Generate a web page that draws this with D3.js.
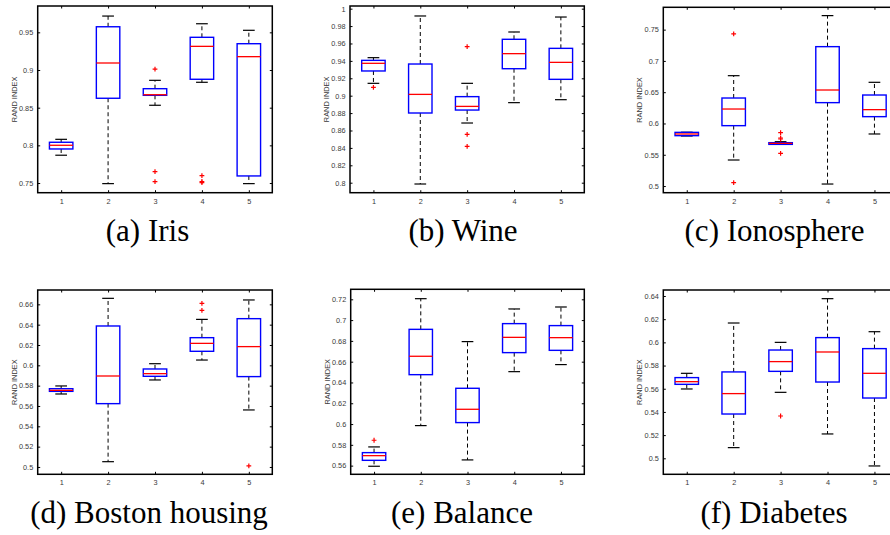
<!DOCTYPE html>
<html><head><meta charset="utf-8">
<script src="https://cdn.jsdelivr.net/npm/d3@7"></script>
<style>body{margin:0;background:#fff}svg{display:block}</style>
</head><body>
<svg id="chart" width="890" height="535"></svg>
<script>
// ---- data ----
const methods = ["1", "2", "3", "4", "5"];
const captions = ["(a) Iris", "(b) Wine", "(c) Ionosphere", "(d) Boston housing", "(e) Balance", "(f) Diabetes"];
const yLabel = "RAND INDEX";

// each row: [lower whisker, q1, median, q3, upper whisker]
const irisStats = [[0.7869, 0.7952, 0.8001, 0.8041, 0.8080], [0.7492, 0.8625, 0.9093, 0.9574, 0.9716], [0.8532, 0.8664, 0.8672, 0.8752, 0.8863], [0.8837, 0.8877, 0.9314, 0.9434, 0.9614], [0.7492, 0.7594, 0.9177, 0.9349, 0.9527]];
const irisOutliers = [[], [], [0.9013, 0.7651, 0.7519], [0.7598, 0.7520, 0.7505], []];

const wineStats = [[0.9142, 0.9284, 0.9372, 0.9406, 0.9437], [0.7985, 0.8801, 0.9015, 0.9364, 0.9916], [0.8686, 0.8835, 0.8877, 0.8989, 0.9142], [0.8920, 0.9310, 0.9483, 0.9648, 0.9732], [0.8954, 0.9188, 0.9383, 0.9544, 0.9904]];
const wineOutliers = [[0.9096], [], [0.9563, 0.8556, 0.8418], [], []];

const ionoStats = [[0.5800, 0.5805, 0.5832, 0.5858, 0.5860], [0.5416, 0.5965, 0.6231, 0.6407, 0.6764], [0.5666, 0.5666, 0.5682, 0.5693, 0.5709], [0.5032, 0.6333, 0.6535, 0.7228, 0.7724], [0.5832, 0.6109, 0.6221, 0.6455, 0.6658]];
const ionoOutliers = [[], [0.7431, 0.5053], [0.5853, 0.5768, 0.5752, 0.5522], [], []];

const bostonStats = [[0.5718, 0.5744, 0.5754, 0.5770, 0.5797], [0.5052, 0.5623, 0.5895, 0.6387, 0.6659], [0.5856, 0.5892, 0.5918, 0.5964, 0.6016], [0.6052, 0.6138, 0.6216, 0.6272, 0.6452], [0.5561, 0.5889, 0.6184, 0.6459, 0.6643]];
const bostonOutliers = [[], [], [], [0.6610, 0.6541], [0.5010]];

const balanceStats = [[0.5594, 0.5651, 0.5696, 0.5725, 0.5780], [0.5985, 0.6475, 0.6652, 0.6911, 0.7206], [0.5655, 0.6014, 0.6142, 0.6344, 0.6793], [0.6504, 0.6687, 0.6834, 0.6966, 0.7107], [0.6572, 0.6709, 0.6831, 0.6947, 0.7126]];
const balanceOutliers = [[0.5844], [], [], [], []];

const diabetesStats = [[0.5598, 0.5638, 0.5661, 0.5696, 0.5733], [0.5092, 0.5382, 0.5558, 0.5745, 0.6167], [0.5569, 0.5750, 0.5834, 0.5934, 0.6000], [0.5210, 0.5658, 0.5917, 0.6041, 0.6377], [0.4934, 0.5520, 0.5733, 0.5946, 0.6092]];
const diabetesOutliers = [[], [], [0.5365], [], []];

// y-axis limits and tick labels
const irisYLim = [0.73716, 0.98495];
const irisTicks = ["0.75", "0.8", "0.85", "0.9", "0.95"];
const wineYLim = [0.78851, 1.00307];
const wineTicks = ["0.8", "0.82", "0.84", "0.86", "0.88", "0.9", "0.92", "0.94", "0.96", "0.98", "1"];
const ionoYLim = [0.48934, 0.78571];
const ionoTicks = ["0.5", "0.55", "0.6", "0.65", "0.7", "0.75"];
const bostonYLim = [0.49279, 0.67410];
const bostonTicks = ["0.5", "0.52", "0.54", "0.56", "0.58", "0.6", "0.62", "0.64", "0.66"];
const balanceYLim = [0.55166, 0.72962];
const balanceTicks = ["0.56", "0.58", "0.6", "0.62", "0.64", "0.66", "0.68", "0.7", "0.72"];
const diabetesYLim = [0.48620, 0.64517];
const diabetesTicks = ["0.5", "0.52", "0.54", "0.56", "0.58", "0.6", "0.62", "0.64"];

const panels = [
  {stats: irisStats, out: irisOutliers, ylim: irisYLim, ticks: irisTicks},
  {stats: wineStats, out: wineOutliers, ylim: wineYLim, ticks: wineTicks},
  {stats: ionoStats, out: ionoOutliers, ylim: ionoYLim, ticks: ionoTicks},
  {stats: bostonStats, out: bostonOutliers, ylim: bostonYLim, ticks: bostonTicks},
  {stats: balanceStats, out: balanceOutliers, ylim: balanceYLim, ticks: balanceTicks},
  {stats: diabetesStats, out: diabetesOutliers, ylim: diabetesYLim, ticks: diabetesTicks}
];

// ---- layout ----
const frames = [
  {x0: 37.7, x1: 272.3, y0: 6, y1: 192.7, cx: 147.5, cy: 241},
  {x0: 350.0, x1: 584.3, y0: 6, y1: 192.7, cx: 463, cy: 241},
  {x0: 663.3, x1: 897.9, y0: 7.3, y1: 192.7, cx: 774.5, cy: 241},
  {x0: 37.7, x1: 272.3, y0: 290, y1: 474.3, cx: 149, cy: 523},
  {x0: 350.7, x1: 584.3, y0: 289.3, y1: 474.3, cx: 462, cy: 523},
  {x0: 663.3, x1: 897.9, y0: 290, y1: 474.3, cx: 774, cy: 523}
];

const svg = d3.select("#chart");
svg.append("rect").attr("width", 890).attr("height", 535).attr("fill", "#fff");

const TL = 2.5;
const tickFont = "'Liberation Sans', Arial, sans-serif";

panels.forEach((p, i) => {
  const f = frames[i];
  const g = svg.append("g");
  const x = d3.scaleLinear().domain([0.5, 5.5]).range([f.x0, f.x1]);
  const y = d3.scaleLinear().domain(p.ylim).range([f.y1, f.y0]);
  const tv = p.ticks.map(Number);
  const xv = methods.map(Number);

  // axes (inward ticks, MATLAB box)
  const axL = g.append("g").attr("transform", `translate(${f.x0},0)`)
    .call(d3.axisLeft(y).tickValues(tv).tickSizeInner(-TL).tickSizeOuter(0).tickPadding(4.5)
      .tickFormat((d, k) => p.ticks[k]));
  const axR = g.append("g").attr("transform", `translate(${f.x1},0)`)
    .call(d3.axisRight(y).tickValues(tv).tickSizeInner(-TL).tickSizeOuter(0).tickFormat(""));
  const axB = g.append("g").attr("transform", `translate(0,${f.y1})`)
    .call(d3.axisBottom(x).tickValues(xv).tickSizeInner(-TL).tickSizeOuter(0).tickPadding(6)
      .tickFormat((d, k) => methods[k]));
  const axT = g.append("g").attr("transform", `translate(0,${f.y0})`)
    .call(d3.axisTop(x).tickValues(xv).tickSizeInner(-TL).tickSizeOuter(0).tickFormat(""));
  [axL, axR, axB, axT].forEach(a => {
    a.select(".domain").remove();
    a.selectAll("line").attr("stroke", "#000").attr("stroke-width", 1);
    a.selectAll("text").attr("font-family", tickFont).attr("font-size", 7.3).attr("fill", "#3a3a3a");
  });

  // frame
  g.append("rect").attr("x", f.x0).attr("y", f.y0)
    .attr("width", f.x1 - f.x0).attr("height", f.y1 - f.y0)
    .attr("fill", "none").attr("stroke", "#000").attr("stroke-width", 1.5);

  // y label
  g.append("text")
    .attr("transform", `translate(${f.x0 - 21},${(f.y0 + f.y1) / 2}) rotate(-90)`)
    .attr("text-anchor", "middle").attr("font-family", tickFont)
    .attr("font-size", 7.4).attr("fill", "#3a3a3a").text(yLabel);

  const bw = 0.25, cw = 0.125;
  p.stats.forEach((s, k) => {
    const c = xv[k];
    const [lw, q1, med, q3, uw] = s;
    const bg = g.append("g");
    // whiskers
    bg.append("line").attr("x1", x(c)).attr("x2", x(c)).attr("y1", y(q3)).attr("y2", y(uw))
      .attr("stroke", "#000").attr("stroke-width", 1).attr("stroke-dasharray", "4,3");
    bg.append("line").attr("x1", x(c)).attr("x2", x(c)).attr("y1", y(q1)).attr("y2", y(lw))
      .attr("stroke", "#000").attr("stroke-width", 1).attr("stroke-dasharray", "4,3");
    // caps
    [lw, uw].forEach(v => bg.append("line")
      .attr("x1", x(c - cw)).attr("x2", x(c + cw)).attr("y1", y(v)).attr("y2", y(v))
      .attr("stroke", "#000").attr("stroke-width", 1.2));
    // box
    bg.append("rect").attr("x", x(c - bw)).attr("y", y(q3))
      .attr("width", x(c + bw) - x(c - bw)).attr("height", Math.max(y(q1) - y(q3), 0.5))
      .attr("fill", "none").attr("stroke", "#0000ff").attr("stroke-width", 1.4);
    // median
    bg.append("line").attr("x1", x(c - bw)).attr("x2", x(c + bw)).attr("y1", y(med)).attr("y2", y(med))
      .attr("stroke", "#ff0000").attr("stroke-width", 1.3);
    // outliers
    p.out[k].forEach(v => {
      const px = x(c), py = y(v), r = 2.4;
      bg.append("path").attr("d", `M${px - r},${py}H${px + r}M${px},${py - r}V${py + r}`)
        .attr("stroke", "#ff0000").attr("stroke-width", 1.2).attr("fill", "none");
    });
  });

  // caption
  svg.append("text").attr("x", f.cx).attr("y", f.cy).attr("text-anchor", "middle")
    .attr("font-family", "'Liberation Serif', 'Times New Roman', serif")
    .attr("font-size", 31).attr("fill", "#000").text(captions[i]);
});
</script>
</body></html>
